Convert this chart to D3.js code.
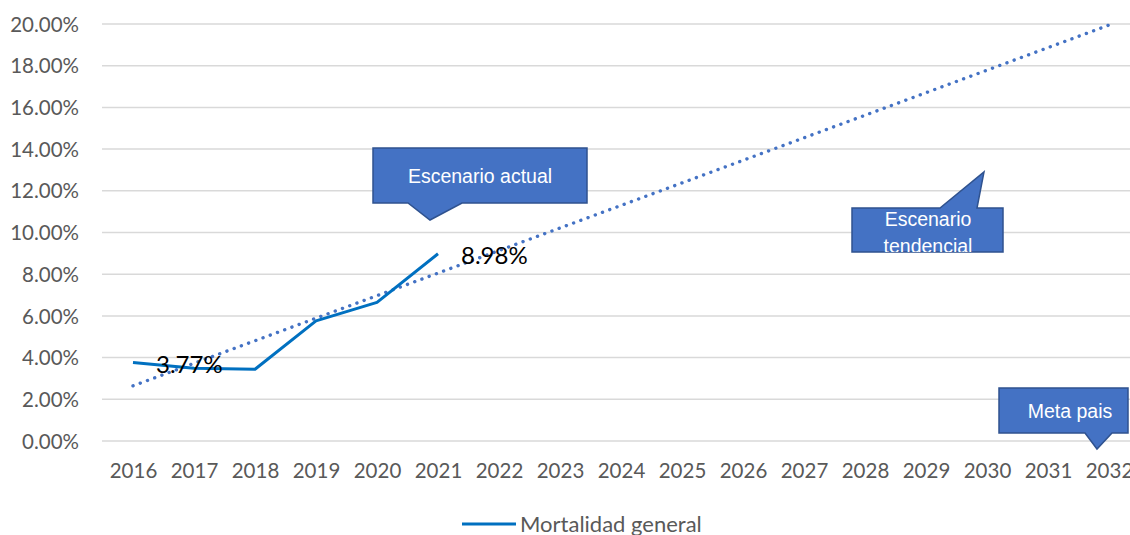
<!DOCTYPE html>
<html><head><meta charset="utf-8">
<script src="https://cdn.jsdelivr.net/npm/d3@7"></script>
<style>body{margin:0;background:#fff;overflow:hidden}svg{display:block}</style>
</head><body>
<svg id="c" width="1130" height="535"></svg>
<script>
const years = ["2016","2017","2018","2019","2020","2021","2022","2023","2024","2025","2026","2027","2028","2029","2030","2031","2032"];
const actualYears = ["2016","2017","2018","2019","2020","2021"];
const mortalidad = [3.77, 3.49, 3.44, 5.76, 6.65, 8.98];
const yTicks = [0,2,4,6,8,10,12,14,16,18,20];
const labelledPoints = [{year:"2016", value:3.77}, {year:"2021", value:8.98}];
const seriesName = "Mortalidad general";

const svg = d3.select("#c");
const font = "Lato, 'Open Sans', sans-serif";
const x = d3.scalePoint().domain(years).range([133, 1109]);
const y = d3.scaleLinear().domain([0,20]).range([441, 24]);

// gridlines
svg.append("g").selectAll("line").data(yTicks).join("line")
  .attr("x1",102).attr("x2",1130).attr("y1",d=>y(d)).attr("y2",d=>y(d))
  .attr("stroke","#d9d9d9").attr("stroke-width",1.5);

// y axis labels
const yAxis = d3.axisLeft(y).tickValues(yTicks).tickFormat(d=>d.toFixed(2)+"%").tickSize(0).tickPadding(0);
const gy = svg.append("g").attr("transform","translate(79,0)").call(yAxis);
gy.select(".domain").remove();
gy.selectAll("text").attr("font-family",font).attr("font-size",20.5).attr("fill","#595959").attr("dy","0.35em");

// x axis labels
const xAxis = d3.axisBottom(x).tickSize(0).tickPadding(0);
const gx = svg.append("g").attr("transform","translate(0,463)").call(xAxis);
gx.select(".domain").remove();
gx.selectAll("text").attr("font-family",font).attr("font-size",20.5).attr("fill","#595959").attr("dy","0.71em");

// linear trendline (regression on actual data, forecast to 2032)
const xs = mortalidad.map((_,i)=>i+1);
const mx = d3.mean(xs), my = d3.mean(mortalidad);
const slope = d3.sum(xs.map((xi,i)=>(xi-mx)*(mortalidad[i]-my))) / d3.sum(xs.map(xi=>(xi-mx)**2));
const icpt = my - slope*mx;
const trend = [years[0], years[years.length-1]].map(yr => ({yr, v: icpt + slope*(years.indexOf(yr)+1)}));
svg.append("path").datum(trend)
  .attr("d", d3.line().x(d=>x(d.yr)).y(d=>y(d.v)))
  .attr("fill","none").attr("stroke","#4472c4").attr("stroke-width",3.4)
  .attr("stroke-linecap","round").attr("stroke-dasharray","0.1 7.6");

// data line
svg.append("path").datum(mortalidad)
  .attr("d", d3.line().x((d,i)=>x(actualYears[i])).y(d=>y(d)))
  .attr("fill","none").attr("stroke","#0070c0").attr("stroke-width",3).attr("stroke-linejoin","round");

// data labels
svg.append("g").selectAll("text").data(labelledPoints).join("text")
  .attr("x",d=>x(d.year)+23).attr("y",d=>y(d.value)+2)
  .attr("dy","0.35em")
  .attr("font-family",font).attr("font-size",24).attr("fill","#000")
  .text(d=>d.value.toFixed(2)+"%");

// callouts
function callout(pts, lines, cx, cy, lh, clip){
  const g = svg.append("g");
  g.append("path").attr("d", d3.line()(pts)+"Z")
    .attr("fill","#4472c4").attr("stroke","#2f528f").attr("stroke-width",1.5);
  const t = g.append("text").attr("font-family","'Liberation Sans', Arial, sans-serif")
    .attr("font-size",19.5).attr("fill","#fff").attr("text-anchor","middle");
  lines.forEach((l,i)=>t.append("tspan").attr("x",cx).attr("y",cy+i*lh).text(l));
  if (clip) {
    const id = "clip"+Math.random().toString(36).slice(2);
    g.append("clipPath").attr("id",id).append("rect")
      .attr("x",clip[0]).attr("y",clip[1]).attr("width",clip[2]).attr("height",clip[3]);
    t.attr("clip-path","url(#"+id+")");
  }
}
callout([[373,148],[587,148],[587,203],[462,203],[430,220],[408,203],[373,203]],
  ["Escenario actual"], 480, 183, 0);
callout([[852,208],[940,208],[984,172],[977,208],[1003,208],[1003,252],[852,252]],
  ["Escenario","tendencial"], 928, 226, 27, [852,200,151,52]);
callout([[999,388],[1128,388],[1128,433],[1112,433],[1097,449],[1085,433],[999,433]],
  ["Meta pais"], 1070, 418, 0);

// legend
svg.append("line").attr("x1",462).attr("x2",516).attr("y1",524).attr("y2",524)
  .attr("stroke","#0070c0").attr("stroke-width",3);
svg.append("text").attr("x",520).attr("y",524).attr("dy","0.35em")
  .attr("font-family",font).attr("font-size",22).attr("fill","#595959").text(seriesName);
</script>
</body></html>
